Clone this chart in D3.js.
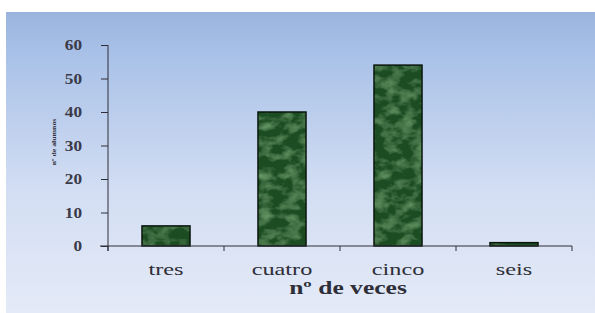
<!DOCTYPE html>
<html><head><meta charset="utf-8">
<script src="https://cdn.jsdelivr.net/npm/d3@7"></script>
<style>body{margin:0;background:#fff}svg{display:block}</style>
</head><body>
<script>
const categories = ["tres", "cuatro", "cinco", "seis"];
const values = [6, 40, 54, 1];
const yTicks = [0, 10, 20, 30, 40, 50, 60];
const xTitle = "nº de veces";
const yTitle = "nº de alumnos";

const W = 595, H = 313;
const FF = "Liberation Serif";
const svg = d3.select("body").append("svg").attr("width", W).attr("height", H);
const defs = svg.append("defs");
const bg = defs.append("linearGradient").attr("id","bg").attr("x1",0).attr("y1",0).attr("x2",0).attr("y2",1);
bg.append("stop").attr("offset","0%").attr("stop-color","#9ab4de");
bg.append("stop").attr("offset","15%").attr("stop-color","#aac2e8");
bg.append("stop").attr("offset","60%").attr("stop-color","#d3def3");
bg.append("stop").attr("offset","100%").attr("stop-color","#e4eaf7");

const f = defs.append("filter").attr("id","marble").attr("x",0).attr("y",0).attr("width",1).attr("height",1);
f.append("feTurbulence").attr("type","fractalNoise").attr("baseFrequency","0.07 0.1").attr("numOctaves",3).attr("seed",11).attr("result","n");
f.append("feColorMatrix").attr("in","n").attr("type","matrix")
 .attr("values","0 0 0 0 0.2  0 0 0 0 0.46  0 0 0 0 0.2  1.2 0 0 0 -0.5").attr("result","c");
f.append("feComposite").attr("in","c").attr("in2","SourceGraphic").attr("operator","atop");

svg.append("rect").attr("x",6).attr("y",12).attr("width",W-6).attr("height",H-12).attr("fill","url(#bg)");

const y = d3.scaleLinear().domain([0,60]).range([246,45]);
const x = d3.scaleBand().domain(categories).range([108,572]).paddingInner(0.586).paddingOuter(0.293);

const ink = "#2e2e38";
svg.append("g").selectAll("rect").data(values).join("rect")
  .attr("x",(d,i)=>x(categories[i]))
  .attr("y",d=>y(d))
  .attr("width",x.bandwidth())
  .attr("height",d=>y(0)-y(d))
  .attr("fill","#1b4e23")
  .attr("filter","url(#marble)");
svg.append("g").selectAll("rect").data(values).join("rect")
  .attr("x",(d,i)=>x(categories[i]))
  .attr("y",d=>y(d))
  .attr("width",x.bandwidth())
  .attr("height",d=>y(0)-y(d))
  .attr("fill","none").attr("stroke","#0a160c").attr("stroke-width",1.5);

const ya = svg.append("g").attr("transform","translate(108,0)")
  .call(d3.axisLeft(y).tickValues(yTicks).tickSize(7).tickFormat(""));
ya.select(".domain").attr("stroke",ink).attr("d","M0,45V251");
ya.selectAll(".tick line").attr("stroke",ink);
svg.append("g").selectAll("text").data(yTicks).join("text")
  .attr("transform",d=>`translate(82,${y(d)+5}) scale(1.15,1)`)
  .attr("text-anchor","end").attr("font-family",FF).attr("font-size",15)
  .attr("font-weight","bold").attr("fill","#3a3a48").text(d=>d);

const xa = svg.append("g").attr("transform",`translate(0,${y(0)})`);
xa.append("line").attr("x1",100).attr("x2",x.range()[1]).attr("stroke",ink);
const step = x.step();
const bounds = d3.range(categories.length+1).map(i=>x.range()[0]+i*step);
xa.selectAll("line.t").data(bounds).join("line").attr("class","t")
  .attr("x1",d=>d).attr("x2",d=>d).attr("y1",0).attr("y2",5).attr("stroke",ink);
xa.selectAll("text").data(categories).join("text")
  .attr("transform",d=>`translate(${x(d)+x.bandwidth()/2},29) scale(1.43,1)`)
  .attr("text-anchor","middle").attr("font-family",FF).attr("font-size",17).attr("fill",ink)
  .text(d=>d);

svg.append("text").attr("transform","translate(348,294) scale(1.42,1)").attr("text-anchor","middle")
  .attr("font-family",FF).attr("font-weight","bold").attr("font-size",18)
  .attr("fill",ink).text(xTitle);

svg.append("text").attr("transform","translate(56,142) rotate(-90) scale(1.3,1)").attr("text-anchor","middle")
  .attr("font-family",FF).attr("font-weight","bold").attr("font-size",6)
  .attr("fill",ink).text(yTitle);
</script>
</body></html>
